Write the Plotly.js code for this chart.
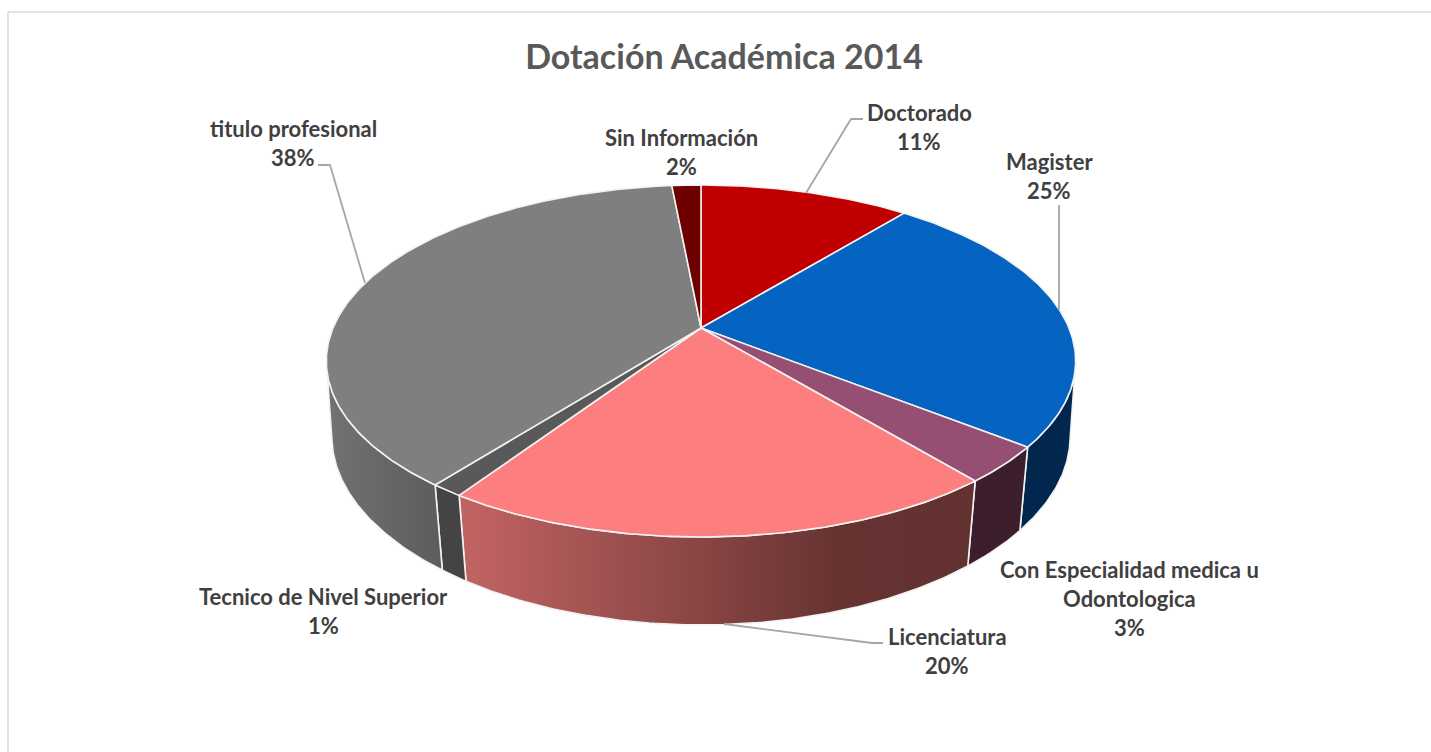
<!DOCTYPE html>
<html><head><meta charset="utf-8">
<script src="https://cdn.plot.ly/plotly-3.0.1.min.js"></script>
<style>html,body{margin:0;padding:0;background:#fff}#c{width:1431px;height:752px}</style>
</head><body><div id="c"></div>
<script>
// ---- data ----
const categories = ["Doctorado","Magister","Con Especialidad medica u Odontologica","Licenciatura","Tecnico de Nivel Superior","titulo profesional","Sin Información"];
const shares = [10.9,24.75,3.35,20.36,1.2,37.94,1.5];
const labelLines = [["Doctorado"],["Magister"],["Con Especialidad medica u","Odontologica"],["Licenciatura"],["Tecnico de Nivel Superior"],["titulo profesional"],["Sin Información"]];

// ---- styling ----
const topColors = ["#C00000","#0563C1","#954F72","#FD7E7E","#595959","#7F7F7F","#6E0000"];
const wallScales = [
  [[0,"#700000"],[1,"#700000"]],
  [[0,"#02274F"],[1,"#02274F"]],
  [[0,"#3C1E2C"],[1,"#3C1E2C"]],
  [[0,"#C36464"],[0.74,"#663331"],[1,"#623130"]],
  [[0,"#444444"],[1,"#444444"]],
  [[0,"#727272"],[1,"#5C5C5C"]],
  [[0,"#400000"],[1,"#400000"]]
];

// ---- layout ----
const W = 1431, H = 752;
const pie = {cx:701, cy:328, rx:368, ry:169.8, persp:0.1875, wallDy:77.5, wallSx:0.985, wallSxSlope:0.0001, wallSxRef:361, wallSy:1.05};
const labelPos = [[919,112],[1049,161],[1129,569],[947,636],[323,596],[293,128],[681,137]];
const lineGap = 29;
const leaders = [
  [[863,119],[851,119],[806,193]],
  [[1059,205],[1059,310]],
  [],
  [[883,643],[872,643],[724,624]],
  [],
  [[318,165],[330,165],[365,283]],
  []
];

function project(theta){
  const u=Math.sin(theta), v=Math.cos(theta), d=1+pie.persp*v;
  return [pie.cx+pie.rx*u/d, pie.cy-pie.ry*v/d];
}
function lower(p){
  const s=pie.wallSx-pie.wallSxSlope*(p[1]-pie.wallSxRef);
  return [pie.cx+(p[0]-pie.cx)*s, pie.cy+pie.wallDy+(p[1]-pie.cy)*pie.wallSy];
}
function arc(a,b){
  const n=Math.max(6,Math.ceil((b-a)/0.01)), out=[];
  for(let i=0;i<=n;i++) out.push(project(a+(b-a)*i/n));
  return out;
}
const total = shares.reduce((s,v)=>s+v,0);
let acc=0;
const spans = shares.map(v=>{const a=acc/total*2*Math.PI; acc+=v; return [a,acc/total*2*Math.PI];});
// the part of the rim that faces the viewer runs between the two side tangents of the projected circle
const rimStart=Math.acos(-pie.persp), rimEnd=2*Math.PI-rimStart;

const traces=[];
const xy=pts=>({x:pts.map(p=>p[0]),y:pts.map(p=>p[1])});
spans.forEach((s,i)=>{
  const a=Math.max(s[0],rimStart), b=Math.min(s[1],rimEnd);
  if(b<=a) return;
  const top=arc(a,b);
  const poly=top.concat(top.slice().reverse().map(lower));
  poly.push(poly[0]);
  const xs=poly.map(p=>p[0]);
  traces.push(Object.assign(xy(poly),{type:"scatter",mode:"lines",fill:"toself",hoverinfo:"skip",showlegend:false,
    line:{color:"#F2F2F2",width:1.6},
    fillcolor:wallScales[i][0][1],
    fillgradient:{type:"horizontal",start:Math.min(...xs),stop:Math.max(...xs),colorscale:wallScales[i]}}));
});
// top faces
spans.forEach((s,i)=>{
  const poly=[[pie.cx,pie.cy]].concat(arc(s[0],s[1]));
  poly.push([pie.cx,pie.cy]);
  traces.push(Object.assign(xy(poly),{type:"scatter",mode:"lines",fill:"toself",fillcolor:topColors[i],name:categories[i],
    text:categories[i],hoverinfo:"text",showlegend:false,line:{color:"#F2F2F2",width:1.6}}));
});
// leader lines
leaders.forEach(l=>{ if(l.length) traces.push(Object.assign(xy(l),{type:"scatter",mode:"lines",hoverinfo:"skip",showlegend:false,line:{color:"#A6A6A6",width:1.8}})); });

const font={family:"Lato, sans-serif",size:22,color:"#404040"};
const annotations=[];
categories.forEach((c,i)=>{
  const lines=labelLines[i].concat([Math.round(shares[i]/total*100)+"%"]);
  lines.forEach((t,j)=>annotations.push({xref:"x",yref:"y",x:labelPos[i][0],y:labelPos[i][1]+j*lineGap,text:"<b>"+t+"</b>",showarrow:false,xanchor:"center",yanchor:"middle",font:font}));
});

const layout={
  width:W,height:H,margin:{l:0,r:0,t:0,b:0},paper_bgcolor:"#fff",plot_bgcolor:"#fff",showlegend:false,
  title:{text:"<b>Dotación Académica 2014</b>",x:724/W,xref:"paper",xanchor:"center",y:1-57/H,yref:"paper",yanchor:"middle",font:{family:"Lato, sans-serif",size:34,color:"#595959"}},
  xaxis:{range:[0,W],visible:false,fixedrange:true},
  yaxis:{range:[H,0],visible:false,fixedrange:true},
  annotations:annotations,
  shapes:[
    {type:"line",xref:"x",yref:"y",x0:8,x1:W,y0:12,y1:12,line:{color:"#D9D9D9",width:1.5}},
    {type:"line",xref:"x",yref:"y",x0:8,x1:8,y0:12,y1:H,line:{color:"#D9D9D9",width:1.5}}
  ]
};
Plotly.newPlot("c",traces,layout,{displayModeBar:false,staticPlot:true});
</script></body></html>
